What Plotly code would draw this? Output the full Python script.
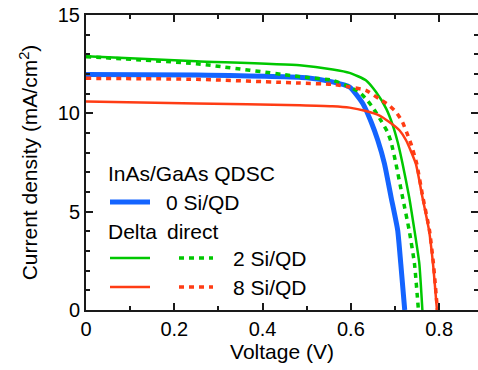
import plotly.graph_objects as go

# ---- data ----
v_0si = [0, 0.25, 0.5, 0.558, 0.597, 0.627, 0.646, 0.661, 0.676, 0.691, 0.706, 0.713, 0.722]
j_0si = [11.98, 11.95, 11.81, 11.6, 11.34, 10.5, 9.56, 8.63, 7.45, 5.75, 4.06, 2.37, 0]

v_delta2 = [0, 0.25, 0.484, 0.559, 0.597, 0.634, 0.657, 0.680, 0.695, 0.706, 0.717, 0.732, 0.744, 0.755, 0.762]
j_delta2 = [12.9, 12.65, 12.44, 12.23, 12.06, 11.68, 11.08, 10.24, 9.39, 8.54, 7.45, 5.75, 4.06, 2.37, 0]

v_direct2 = [0, 0.25, 0.497, 0.558, 0.597, 0.619, 0.634, 0.649, 0.668, 0.683, 0.691, 0.702, 0.717, 0.732, 0.744, 0.753]
j_direct2 = [12.88, 12.52, 11.83, 11.68, 11.34, 11.08, 10.74, 10.32, 9.64, 9.05, 8.55, 7.45, 5.75, 4.06, 2.37, 0]

v_delta8 = [0, 0.25, 0.484, 0.558, 0.597, 0.634, 0.664, 0.687, 0.710, 0.725, 0.747, 0.762, 0.777, 0.786, 0.795]
j_delta8 = [10.6, 10.5, 10.41, 10.36, 10.29, 10.12, 9.9, 9.56, 9.14, 8.63, 7.45, 5.75, 4.06, 2.37, 0]

v_direct8 = [0, 0.25, 0.484, 0.558, 0.597, 0.634, 0.664, 0.687, 0.702, 0.717, 0.729, 0.736, 0.749, 0.763, 0.778, 0.787, 0.796]
j_direct8 = [11.78, 11.73, 11.54, 11.47, 11.34, 11.17, 10.74, 10.4, 10.07, 9.56, 8.88, 8.46, 7.45, 5.75, 4.06, 2.37, 0]

X_RANGE = [0, 0.888]
Y_RANGE = [0, 15]

BLUE = "rgb(20,100,255)"
GREEN = "rgb(0,200,0)"
RED = "rgb(255,60,20)"
FONT = "Liberation Sans, Arial, sans-serif"
FS = 21      # titles / legend text
FT = 20      # tick labels
DOT = "5px,5px"
AX = "#1a1a1a"

fig = go.Figure()
def curve(x, y, color, width, dash="solid"):
    fig.add_trace(go.Scatter(x=x, y=y, mode="lines", hoverinfo="skip",
                             line=dict(color=color, width=width, dash=dash, shape="spline", smoothing=0.5)))

curve(v_0si, j_0si, BLUE, 5)
curve(v_delta2, j_delta2, GREEN, 2.5)
curve(v_direct2, j_direct2, GREEN, 3.5, DOT)
curve(v_delta8, j_delta8, RED, 2.5)
curve(v_direct8, j_direct8, RED, 3.5, DOT)

W, H = 478, 370
L, R, T, B = 86, 0, 15, 60
pw, ph = W - L - R, H - T - B

def px(x):
    return (x - L) / pw

def py(y):
    return (H - B - y) / ph

shapes = []
def seg(x0, x1, y, color, width, dash="solid"):
    shapes.append(dict(type="line", xref="paper", yref="paper", x0=px(x0), x1=px(x1), y0=py(y), y1=py(y),
                       line=dict(color=color, width=width, dash=dash)))

seg(110, 150, 202, BLUE, 5)
seg(110, 150, 258, GREEN, 2.5)
seg(179, 213, 258, GREEN, 3.5, DOT)
seg(110, 150, 287, RED, 2.5)
seg(179, 213, 287, RED, 3.5, DOT)

annotations = []
def txt(x, y, s):
    annotations.append(dict(xref="paper", yref="paper", x=px(x), y=py(y), text=s, showarrow=False,
                            xanchor="left", yanchor="middle", font=dict(family=FONT, size=FS, color="black")))

txt(106, 173, "InAs/GaAs QDSC")
txt(164, 202, "0 Si/QD")
txt(106, 231, "Delta")
txt(165, 231, "direct")
txt(231, 258, "2 Si/QD")
txt(231, 287, "8 Si/QD")

axis_common = dict(showline=True, linecolor=AX, linewidth=2, mirror="allticks", ticks="inside",
                   tickcolor=AX, tickwidth=1.5, ticklen=7, showgrid=False, zeroline=False,
                   automargin=False, layer="above traces",
                   tickfont=dict(family=FONT, size=FT, color="black"))

fig.update_layout(
    width=W, height=H, margin=dict(l=L, r=R, t=T, b=B),
    paper_bgcolor="white", plot_bgcolor="white", showlegend=False,
    shapes=shapes, annotations=annotations,
    xaxis=dict(range=X_RANGE, dtick=0.2, tick0=0, tickformat="~g",
               minor=dict(ticks="inside", dtick=0.1, ticklen=4, tickcolor=AX, tickwidth=1.5),
               title=dict(text="Voltage (V)", font=dict(family=FONT, size=FS, color="black"), standoff=2),
               **axis_common),
    yaxis=dict(range=Y_RANGE, dtick=5, tick0=0,
               minor=dict(ticks="inside", dtick=1, ticklen=4, tickcolor=AX, tickwidth=1.5),
               title=dict(text="Current density (mA/cm<sup>2</sup>)", font=dict(family=FONT, size=FS, color="black"), standoff=14),
               **axis_common),
)

fig.write_html("out.html", config={"displayModeBar": False},
               post_script="document.body.style.margin='0px';document.body.style.overflow='hidden';")
